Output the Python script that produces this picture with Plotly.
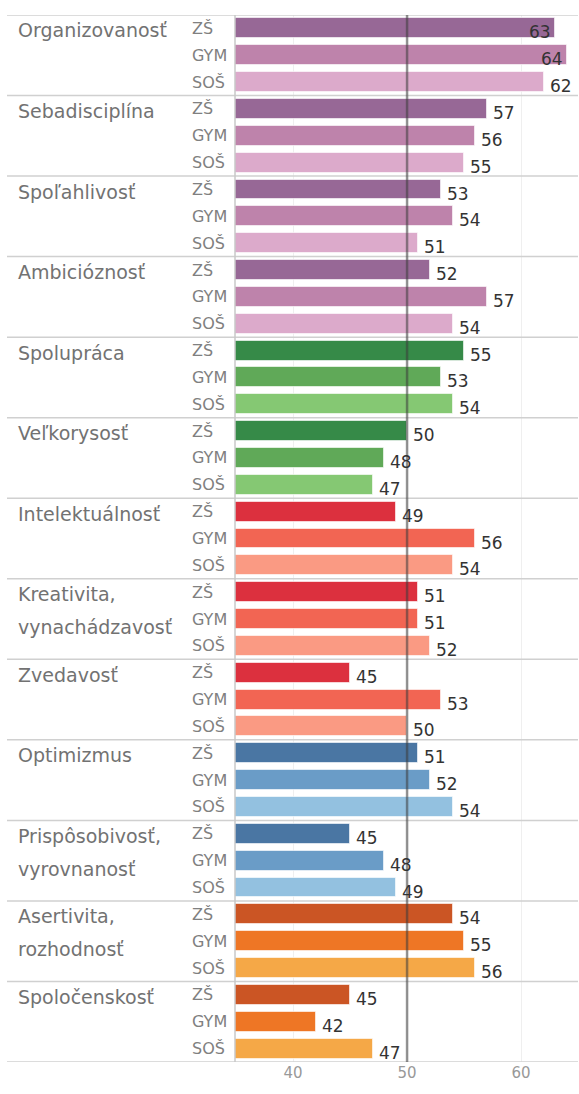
import plotly.graph_objects as go

categories = [
    "Organizovanosť", "Sebadisciplína", "Spoľahlivosť", "Ambicióznosť",
    "Spolupráca", "Veľkorysosť", "Intelektuálnosť",
    "Kreativita,\nvynachádzavosť", "Zvedavosť", "Optimizmus",
    "Prispôsobivosť,\nvyrovnanosť", "Asertivita,\nrozhodnosť", "Spoločenskosť",
]
schools = ["ZŠ", "GYM", "SOŠ"]
zs_values = [63, 57, 53, 52, 55, 50, 49, 51, 45, 51, 45, 54, 45]
gym_values = [64, 56, 54, 57, 53, 48, 56, 51, 53, 52, 48, 55, 42]
sos_values = [62, 55, 51, 54, 54, 47, 54, 52, 50, 54, 49, 56, 47]
families = ["purple", "purple", "purple", "purple", "green", "green", "red",
            "red", "red", "blue", "blue", "orange", "orange"]
palette = {
    "purple": ["#976896", "#be83ab", "#dcaacb"],
    "green": ["#368a48", "#60a958", "#85c873"],
    "red": ["#dc303e", "#f26553", "#fa9a83"],
    "blue": ["#4a76a3", "#6a9cc7", "#93c1e0"],
    "orange": ["#cb5524", "#ee7625", "#f5a847"],
}
reference_value = 50
x_ticks = [40, 50, 60]
x_min, x_max = 34.9, 65.0

ys, xs, cols, ticktext = [], [], [], []
for g, cat in enumerate(categories):
    vals = [zs_values[g], gym_values[g], sos_values[g]]
    for s in range(3):
        ys.append(g * 3 + s)
        xs.append(vals[s])
        cols.append(palette[families[g]][s])
        ticktext.append(schools[s])

fig = go.Figure()
fig.add_trace(go.Bar(
    x=xs, y=ys, orientation="h", width=0.74,
    marker=dict(color=cols, line=dict(color="rgba(255,255,255,0.6)", width=1)),
    hoverinfo="x+y",
))

plot_w = 579 - 235 - 1
value_font = dict(family="DejaVu Sans", size=17, color="#333333")
sub_font = dict(family="DejaVu Sans", size=16, color="#808080")
annotations = []
for x, y, t in zip(xs, ys, ticktext):
    if x + 2.2 > x_max:
        annotations.append(dict(x=x, y=y, xref="x", yref="y", text=str(x), showarrow=False,
                                xanchor="right", xshift=-2, yshift=-4, font=value_font))
    else:
        annotations.append(dict(x=x, y=y, xref="x", yref="y", text=str(x), showarrow=False,
                                xanchor="left", xshift=4, yshift=-4, font=value_font))
    annotations.append(dict(x=(190 - 235) / plot_w, y=y, xref="paper", yref="y", text=t,
                            showarrow=False, xanchor="left", yanchor="middle", font=sub_font))

for g, cat in enumerate(categories):
    for k, line in enumerate(cat.split("\n")):
        annotations.append(dict(x=(16 - 235) / plot_w, y=g * 3 + k * 1.23, xref="paper", yref="y",
                                text=line, showarrow=False, xanchor="left", yanchor="middle",
                                yshift=-2,
                                font=dict(family="DejaVu Sans", size=19, color="#727272")))

shapes = []
for g in range(len(categories) + 1):
    yy = g * 3 - 0.5
    shapes.append(dict(type="line", xref="paper", yref="y", x0=(7 - 235) / plot_w, x1=1,
                       y0=yy, y1=yy, line=dict(color="#d0d0d0", width=1.5), layer="above"))
shapes.append(dict(type="line", xref="paper", yref="y", x0=0, x1=0, y0=-0.5,
                   y1=len(categories) * 3 - 0.5, line=dict(color="#c8c8c8", width=1.5), layer="above"))
shapes.append(dict(type="line", xref="x", yref="y", x0=reference_value, x1=reference_value,
                   y0=-0.5, y1=len(categories) * 3 - 0.5,
                   line=dict(color="rgba(60,60,60,0.55)", width=2.5), layer="above"))

fig.update_layout(
    width=579, height=1094,
    margin=dict(l=235, r=1, t=15, b=32),
    paper_bgcolor="white", plot_bgcolor="white",
    showlegend=False, bargap=0,
    annotations=annotations, shapes=shapes,
    xaxis=dict(range=[x_min, x_max], tickvals=x_ticks, ticktext=[str(t) for t in x_ticks],
               showgrid=True, gridcolor="#efefef", gridwidth=1, zeroline=False,
               showline=False, ticks="", fixedrange=True,
               tickfont=dict(family="DejaVu Sans", size=15, color="#999999")),
    yaxis=dict(range=[len(categories) * 3 - 0.5, -0.5], showticklabels=False,
               showgrid=False, zeroline=False, showline=False, ticks=""),
)

fig.write_html("out.html", config={"displayModeBar": False},
               post_script="document.body.style.margin='0';document.body.style.overflow='hidden';")
